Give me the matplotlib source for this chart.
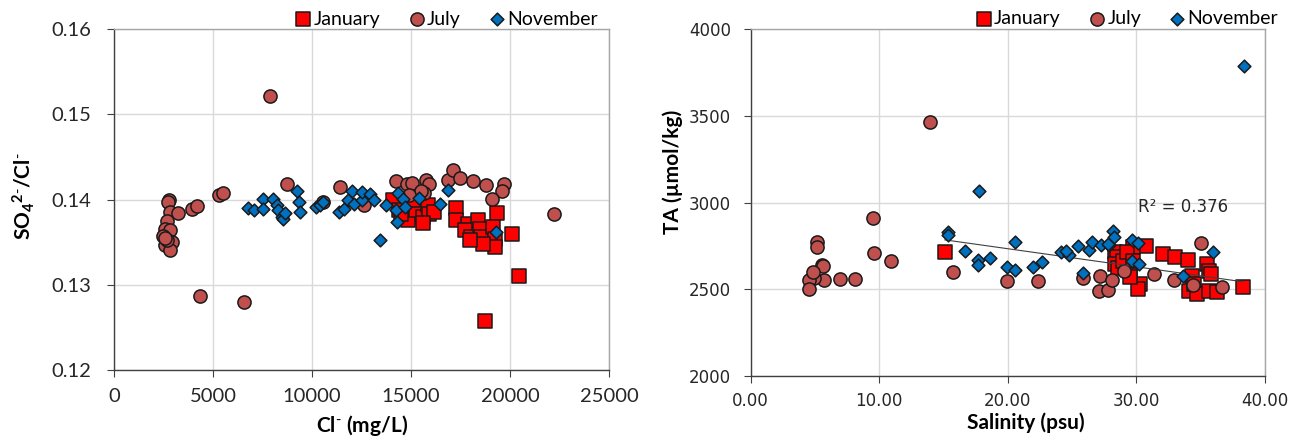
import matplotlib
matplotlib.use("Agg")
import matplotlib.pyplot as plt
import numpy as np

plt.rcParams['mathtext.fontset'] = 'custom'
plt.rcParams['mathtext.rm'] = 'Lato'
plt.rcParams['mathtext.bf'] = 'Lato:bold'

# ---- Sulfate / chloride ratio vs chloride ----
jan_cl = [20475, 18729, 20085, 19356, 17288, 17254, 17881, 18390, 17712, 18051,
          18475, 18559, 19153, 19237, 19237, 18644, 17966, 14068, 14661, 14831,
          15254, 15593, 15847, 15932, 16186, 15085, 14407, 14500, 15600]
jan_ratio = [0.13102, 0.12573, 0.1360, 0.13843, 0.13906, 0.13757, 0.13718, 0.13757, 0.13639, 0.13561,
             0.13659, 0.13561, 0.13678, 0.13541, 0.13443, 0.13482, 0.13522, 0.13992, 0.13796, 0.13757,
             0.13875, 0.13796, 0.13933, 0.13835, 0.13855, 0.13992, 0.13875, 0.1383, 0.1373]

jul_cl = [7900, 4360, 6549, 22202, 2778, 2744, 2828, 3249, 2660, 2576, 2828, 2492, 2912,
          2576, 2828, 2660, 2600, 3923, 4175, 5303, 5522, 8754, 11414, 10572, 12649,
          14234, 14811, 15045, 15766, 15892, 15676, 16847, 17117, 17477, 18108, 18793,
          19694, 19604, 19099, 15500, 14900]
jul_ratio = [0.1522, 0.12863, 0.12796, 0.13835, 0.1400, 0.1397, 0.13855, 0.13843, 0.13749, 0.13659,
             0.13639, 0.13569, 0.13502, 0.13463, 0.13404, 0.13522, 0.1355, 0.13894, 0.13922, 0.14051,
             0.14082, 0.1418, 0.14149, 0.13973, 0.13933, 0.14216, 0.1418, 0.14196, 0.14227, 0.1418,
             0.14078, 0.14227, 0.14353, 0.14255, 0.1422, 0.14176, 0.1418, 0.14098, 0.14012, 0.1410, 0.1405]

nov_cl = [6785, 7071, 7508, 7542, 8013, 8215, 8300, 8468, 8519, 8636, 9226, 9360, 9394,
          10202, 10404, 10541, 11387, 11622, 11838, 12036, 12108, 12522, 12522, 12919,
          13153, 13423, 13748, 14324, 14234, 14288, 14595, 14685, 15405, 16486, 16847, 19279]
nov_ratio = [0.13906, 0.13875, 0.14004, 0.13894, 0.14012, 0.13933, 0.13875, 0.13796, 0.13776, 0.13843,
             0.14102, 0.13973, 0.13855, 0.13914, 0.13933, 0.13973, 0.13851, 0.13894, 0.13992, 0.14102,
             0.13953, 0.1400, 0.1409, 0.1407, 0.1400, 0.13529, 0.13933, 0.14078, 0.13882, 0.13737,
             0.14012, 0.13914, 0.14024, 0.13945, 0.1411, 0.1362]

# ---- Total alkalinity vs salinity ----
jan_sal = [15.1, 38.26, 30.77, 32.05, 33.0, 34.03, 35.5, 35.64, 35.77, 34.31, 34.1, 34.49,
           34.74, 35.64, 36.28, 30.26, 30.13, 29.74, 28.33, 28.46, 28.33, 28.59, 29.49,
           29.49, 28.97, 29.23, 29.74]
jan_ta = [2713, 2510, 2748, 2700, 2684, 2670, 2645, 2607, 2587, 2578, 2490, 2529,
          2471, 2490, 2481, 2529, 2500, 2742, 2713, 2684, 2645, 2622, 2607,
          2568, 2665, 2713, 2665]

jul_sal = [13.97, 9.53, 9.56, 10.91, 5.19, 5.12, 5.58, 5.61, 5.71, 4.94, 4.55, 4.56, 4.81,
           6.94, 8.13, 15.71, 19.97, 22.32, 25.86, 27.14, 27.05, 27.79, 28.13, 29.04,
           31.39, 32.94, 34.42, 35.01, 36.63]
jul_ta = [3467, 2908, 2710, 2663, 2773, 2744, 2638, 2631, 2552, 2562, 2552, 2498, 2600,
          2556, 2556, 2600, 2544, 2544, 2563, 2573, 2490, 2496, 2554, 2602,
          2587, 2554, 2525, 2765, 2515]

nov_sal = [38.39, 17.76, 15.38, 15.38, 16.66, 17.71, 17.71, 18.64, 19.92, 20.57, 20.54,
           21.95, 22.66, 24.16, 24.73, 25.44, 25.81, 26.29, 26.51, 27.22, 27.85, 28.19,
           28.27, 29.68, 30.11, 29.68, 30.17, 33.65, 35.92, 24.49, 27.82]
nov_ta = [3790, 3067, 2829, 2813, 2721, 2669, 2640, 2679, 2625, 2612, 2771,
          2625, 2654, 2713, 2698, 2746, 2592, 2723, 2771, 2756, 2756, 2833,
          2800, 2781, 2765, 2660, 2644, 2573, 2713, 2719, 2762]

series_labels = ['January', 'July', 'November']

C_JAN = '#FF0000'
C_JUL = '#C0504D'
C_NOV = '#0070C0'
EDGE = '#1a1a1a'

S_SQ = 94
S_CI = 90
S_DI = 42

fig = plt.figure(figsize=(13.04, 4.42), dpi=100)
ax1 = fig.add_axes([0.0874, 0.1629, 0.3796, 0.7708])
ax2 = fig.add_axes([0.5757, 0.1500, 0.3944, 0.7837])


def style_axes(ax):
    ax.set_axisbelow(True)
    ax.grid(True, color='#D9D9D9', lw=1.0)
    for side in ('left', 'bottom'):
        ax.spines[side].set_color('#404040')
        ax.spines[side].set_linewidth(1.0)
    for side in ('top', 'right'):
        ax.spines[side].set_color('#A6A6A6')
        ax.spines[side].set_linewidth(1.0)
    ax.tick_params(direction='out', length=5, width=0.8, color='#404040',
                   labelcolor='#262626')


def draw_series(ax, xs, ys):
    h1 = ax.scatter(xs[0], ys[0], s=S_SQ, marker='s', facecolor=C_JAN,
                    edgecolor=EDGE, linewidth=1.1, zorder=3)
    h2 = ax.scatter(xs[1], ys[1], s=S_CI, marker='o', facecolor=C_JUL,
                    edgecolor=EDGE, linewidth=1.1, zorder=4)
    h3 = ax.scatter(xs[2], ys[2], s=S_DI, marker='D', facecolor=C_NOV,
                    edgecolor=EDGE, linewidth=1.1, zorder=5)
    return [h1, h2, h3]


def add_legend(ax, x0):
    ax.legend(handles, series_labels, loc='center left', bbox_to_anchor=(x0, 1.030),
              ncol=3, frameon=False, handlelength=0.75, handletextpad=0.15,
              columnspacing=1.5, borderaxespad=0, borderpad=0, scatterpoints=1,
              prop={'family': 'Lato', 'size': 14})


# Left panel
handles = draw_series(ax1, [jan_cl, jul_cl, nov_cl], [jan_ratio, jul_ratio, nov_ratio])
style_axes(ax1)
ax1.set_xlim(0, 25000)
ax1.set_ylim(0.12, 0.16)
ax1.set_xticks(np.arange(0, 25001, 5000))
ax1.set_yticks(np.arange(0.12, 0.1601, 0.01))
ax1.set_yticklabels([f'{v:.2f}' for v in np.arange(0.12, 0.1601, 0.01)])
ax1.tick_params(axis='y', pad=11)
ax1.tick_params(axis='x', pad=8)
for lab in ax1.get_xticklabels() + ax1.get_yticklabels():
    lab.set_fontfamily('Lato')
    lab.set_fontsize(14.5)
ax1.set_xlabel(r'$\mathbf{Cl^{\text{-}}}$ (mg/L)', fontfamily='Lato', fontweight='bold',
               fontsize=15)
ax1.xaxis.set_label_coords(0.502, -0.125)
ax1.set_ylabel(r'$\mathbf{SO_4{}^{2\text{-}}/Cl^{\text{-}}}$', fontfamily='Lato',
               fontweight='bold', fontsize=15)
ax1.yaxis.set_label_coords(-0.155, 0.511)
add_legend(ax1, 0.368)

# Right panel
handles = draw_series(ax2, [jan_sal, jul_sal, nov_sal], [jan_ta, jul_ta, nov_ta])
style_axes(ax2)

# Linear trend for the January series
coef = np.polyfit(jan_sal, jan_ta, 1)
xfit = np.array([min(jan_sal), max(jan_sal)])
ax2.plot(xfit, np.polyval(coef, xfit), color='#404040', lw=0.8, zorder=4.5)
ax2.text(30.15, 2976, 'R² = 0.376', fontsize=12, family='DejaVu Sans',
         color='#262626', va='center', ha='left')

ax2.set_xlim(0, 40)
ax2.set_ylim(2000, 4000)
ax2.set_xticks(np.arange(0, 40.1, 10))
ax2.set_xticklabels([f'{v:.2f}' for v in np.arange(0, 40.1, 10)])
ax2.set_yticks(np.arange(2000, 4001, 500))
ax2.tick_params(axis='y', pad=9)
ax2.tick_params(axis='x', pad=7)
for lab in ax2.get_xticklabels() + ax2.get_yticklabels():
    lab.set_fontfamily('DejaVu Sans')
    lab.set_fontsize(12)
ax2.set_xlabel('Salinity (psu)', fontfamily='Lato', fontweight='bold', fontsize=15)
ax2.xaxis.set_label_coords(0.535, -0.105)
ax2.set_ylabel('TA (µmol/kg)', fontfamily='Lato', fontweight='bold', fontsize=15)
ax2.yaxis.set_label_coords(-0.132, 0.588)
add_legend(ax2, 0.439)

fig.savefig('out.png', dpi=100)
